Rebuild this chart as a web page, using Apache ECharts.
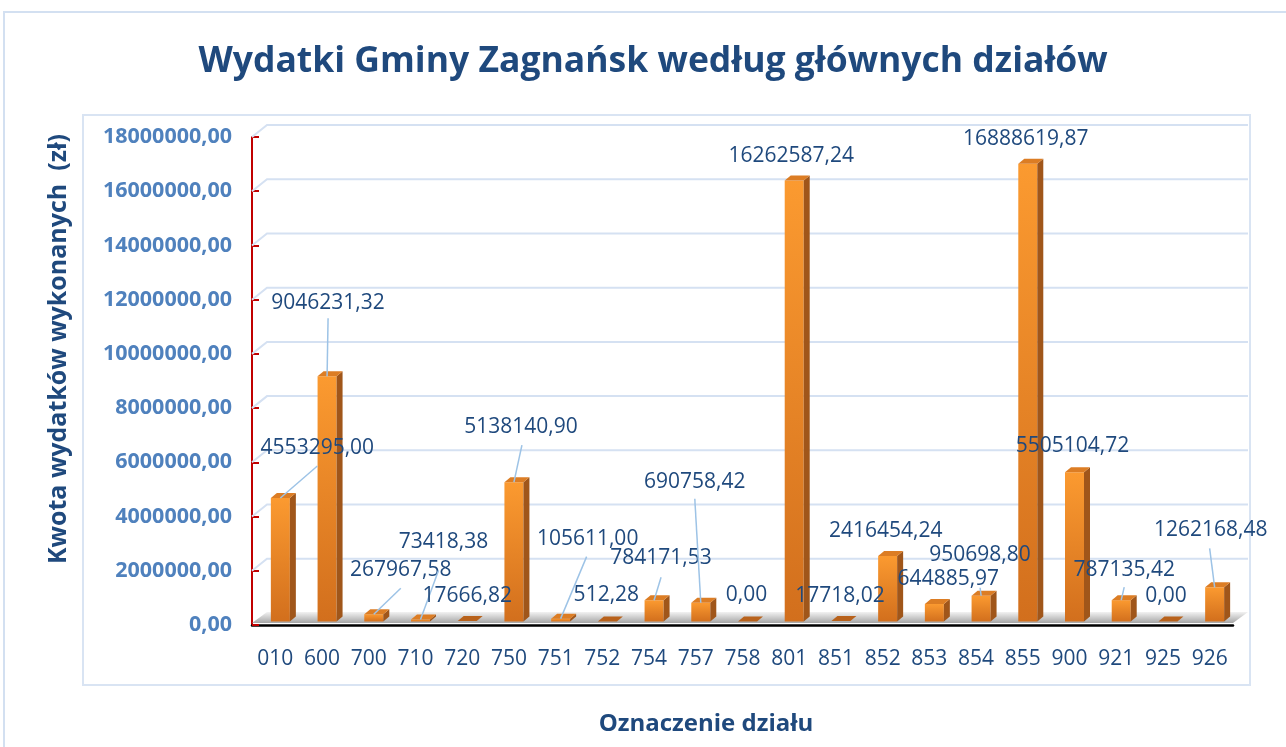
<!DOCTYPE html>
<html>
<head>
<meta charset="utf-8">
<title>Wydatki Gminy Zagnańsk</title>
<script src="https://cdn.jsdelivr.net/npm/echarts@6/dist/echarts.min.js"></script>
<style>
  html, body { margin: 0; padding: 0; background: #fff; }
  #chart { width: 1286px; height: 747px; }
</style>
</head>
<body>
<div id="chart"></div>
<script>
// oznaczenia działów (oś X)
const dzialy = ['010', '600', '700', '710', '720', '750', '751', '752', '754', '757', '758',
  '801', '851', '852', '853', '854', '855', '900', '921', '925', '926'];

// kwota wydatków wykonanych (zł)
const wydatki = [4553295.00, 9046231.32, 267967.58, 73418.38, 17666.82, 5138140.90, 105611.00,
  512.28, 784171.53, 690758.42, 0.00, 16262587.24, 17718.02, 2416454.24, 644885.97,
  950698.80, 16888619.87, 5505104.72, 787135.42, 0.00, 1262168.48];

// podziałka osi Y
const yTicks = [0, 2000000, 4000000, 6000000, 8000000, 10000000, 12000000, 14000000, 16000000, 18000000];

// położenie etykiet względem wierzchołka słupka [dx, dy]
const labelOffsets = [[42, -50], [6, -73], [32, -44], [28, -77], [5, -25], [12, -55], [32, -80],
  [4, -26], [12, -42], [-1, -121], [4, -26], [2, -25], [4, -25], [3, -25], [19, -25],
  [4, -41], [3, -25], [3, -26], [8, -30], [3, -25], [1, -57]];
// początek linii odniesienia względem środka etykiety (null = brak linii)
const leaderStarts = [[0, 18], [0, 15], [0, 18], [-5, 28], null, [1, 18], [-1, 18],
  null, [0, 19], [0, 17], null, null, null, null, null,
  [0, 33], null, null, [0, 17], null, [-1, 18]];

const FONT = "'Open Sans', sans-serif";
const BAR_W = 19, BAR_DX = 5, BAR_DY = -3.5, DEPTH_X = 6, DEPTH_Y = 5;
const WALL_X = 15, WALL_Y = 12;

const fmt = v => v.toFixed(2).replace('.', ',');

// słupek 3D: przód, bok, góra
function renderBar(params, api) {
  const top = api.coord([api.value(0), api.value(1)]);
  const base = api.coord([api.value(0), 0]);
  const x = top[0] + BAR_DX - BAR_W / 2;
  const y = top[1] + BAR_DY;
  const h = base[1] - top[1];
  const children = [];
  if (h > 0.5) {
    children.push({
      type: 'rect',
      shape: { x: x, y: y, width: BAR_W, height: h },
      style: {
        fill: new echarts.graphic.LinearGradient(0, 0, 0, 1, [
          { offset: 0, color: '#fb9a30' },
          { offset: 1, color: '#d26f1d' }
        ])
      }
    });
    children.push({
      type: 'polygon',
      shape: { points: [[x + BAR_W, y], [x + BAR_W + DEPTH_X, y - DEPTH_Y],
        [x + BAR_W + DEPTH_X, y + h - DEPTH_Y], [x + BAR_W, y + h]] },
      style: { fill: '#a0561a' }
    });
  }
  children.push({
    type: 'polygon',
    shape: { points: [[x, y], [x + BAR_W, y], [x + BAR_W + DEPTH_X, y - DEPTH_Y], [x + DEPTH_X, y - DEPTH_Y]] },
    style: { fill: h > 0.5 ? '#dc7d24' : '#b8621c' }
  });
  return { type: 'group', children: children };
}

// etykiety danych z liniami odniesienia
function renderLabel(params, api) {
  const i = params.dataIndex;
  const top = api.coord([api.value(0), api.value(1)]);
  const topY = top[1] + BAR_DY;
  const off = labelOffsets[i];
  const lx = top[0] + off[0];
  const ly = topY + off[1];
  const children = [];
  const s = leaderStarts[i];
  if (s) {
    children.push({
      type: 'line',
      shape: { x1: lx + s[0], y1: ly + s[1], x2: top[0] + BAR_DX, y2: topY },
      style: { stroke: '#9dc3e6', lineWidth: 1.5 }
    });
  }
  children.push({
    type: 'text',
    style: {
      text: fmt(wydatki[i]), x: lx, y: ly, align: 'center', verticalAlign: 'middle',
      fill: '#1f497d', fontSize: 21, fontFamily: FONT
    }
  });
  return { type: 'group', children: children };
}

// tylna ściana (linie siatki) i podłoga
function renderWall(params, api) {
  const cs = params.coordSys;
  const y = api.coord([0, api.value(1)])[1];
  if (api.value(1) === 0) {
    return {
      type: 'polygon',
      shape: { points: [[cs.x, y - 2], [cs.x + cs.width, y - 2],
        [cs.x + cs.width + WALL_X, y - WALL_Y - 1], [cs.x + WALL_X, y - WALL_Y - 1]] },
      style: {
        fill: new echarts.graphic.LinearGradient(0, 0, 0, 1, [
          { offset: 0, color: '#f2f2f2' },
          { offset: 1, color: '#a6a6a6' }
        ])
      }
    };
  }
  return {
    type: 'polyline',
    shape: { points: [[cs.x, y], [cs.x + WALL_X, y - WALL_Y], [cs.x + cs.width + WALL_X, y - WALL_Y]] },
    style: { stroke: '#d5e1f2', lineWidth: 2, fill: null }
  };
}

const chart = echarts.init(document.getElementById('chart'));

const option = {
  animation: false,
  graphic: [
    { type: 'rect', shape: { x: 4, y: 12, width: 1320, height: 780 },
      style: { fill: null, stroke: '#d3e0f1', lineWidth: 2 }, z: -1 },
    { type: 'rect', shape: { x: 83, y: 115, width: 1167, height: 570 },
      style: { fill: null, stroke: '#d9e4f3', lineWidth: 2 }, z: -1 },
    { type: 'text', x: 653, y: 62,
      style: { text: 'Wydatki Gminy Zagnańsk według głównych działów', align: 'center', verticalAlign: 'middle',
        fill: '#1f497d', fontSize: 35.5, fontWeight: 'bold', fontFamily: FONT } },
    { type: 'text', x: 59, y: 349, rotation: Math.PI / 2,
      style: { text: 'Kwota wydatków wykonanych  (zł)', align: 'center', verticalAlign: 'middle',
        fill: '#1f497d', fontSize: 25, fontWeight: 'bold', fontFamily: FONT } },
    { type: 'text', x: 706, y: 724,
      style: { text: 'Oznaczenie działu', align: 'center', verticalAlign: 'middle',
        fill: '#1f497d', fontSize: 24, fontWeight: 'bold', fontFamily: FONT } }
  ],
  grid: { left: 252, right: 53, top: 137, bottom: 122 },
  xAxis: {
    type: 'category',
    data: dzialy,
    axisLine: { lineStyle: { color: '#000', width: 2.5 } },
    axisTick: { show: false },
    axisLabel: { interval: 0, color: '#1f497d', fontSize: 21, fontFamily: FONT, margin: 24 }
  },
  yAxis: {
    type: 'value',
    min: 0,
    max: yTicks[yTicks.length - 1],
    interval: yTicks[1] - yTicks[0],
    axisLine: { show: true, lineStyle: { color: '#c00000', width: 2 } },
    axisTick: { show: true, inside: true, length: 7, lineStyle: { color: '#c00000', width: 2 } },
    splitLine: { show: false },
    axisLabel: {
      formatter: v => fmt(v),
      color: '#4f81bd', fontSize: 21.5, fontWeight: 'bold', fontFamily: FONT, margin: 20
    }
  },
  series: [
    {
      type: 'custom', name: 'siatka', z: 1, clip: false,
      renderItem: renderWall,
      data: yTicks.map(v => [0, v])
    },
    {
      type: 'custom', name: 'wydatki', z: 2, clip: false,
      renderItem: renderBar,
      data: wydatki.map((v, i) => [i, v])
    },
    {
      type: 'custom', name: 'etykiety', z: 3, clip: false,
      renderItem: renderLabel,
      data: wydatki.map((v, i) => [i, v])
    }
  ]
};

chart.setOption(option);
window.addEventListener('resize', () => chart.resize());
</script>
</body>
</html>
